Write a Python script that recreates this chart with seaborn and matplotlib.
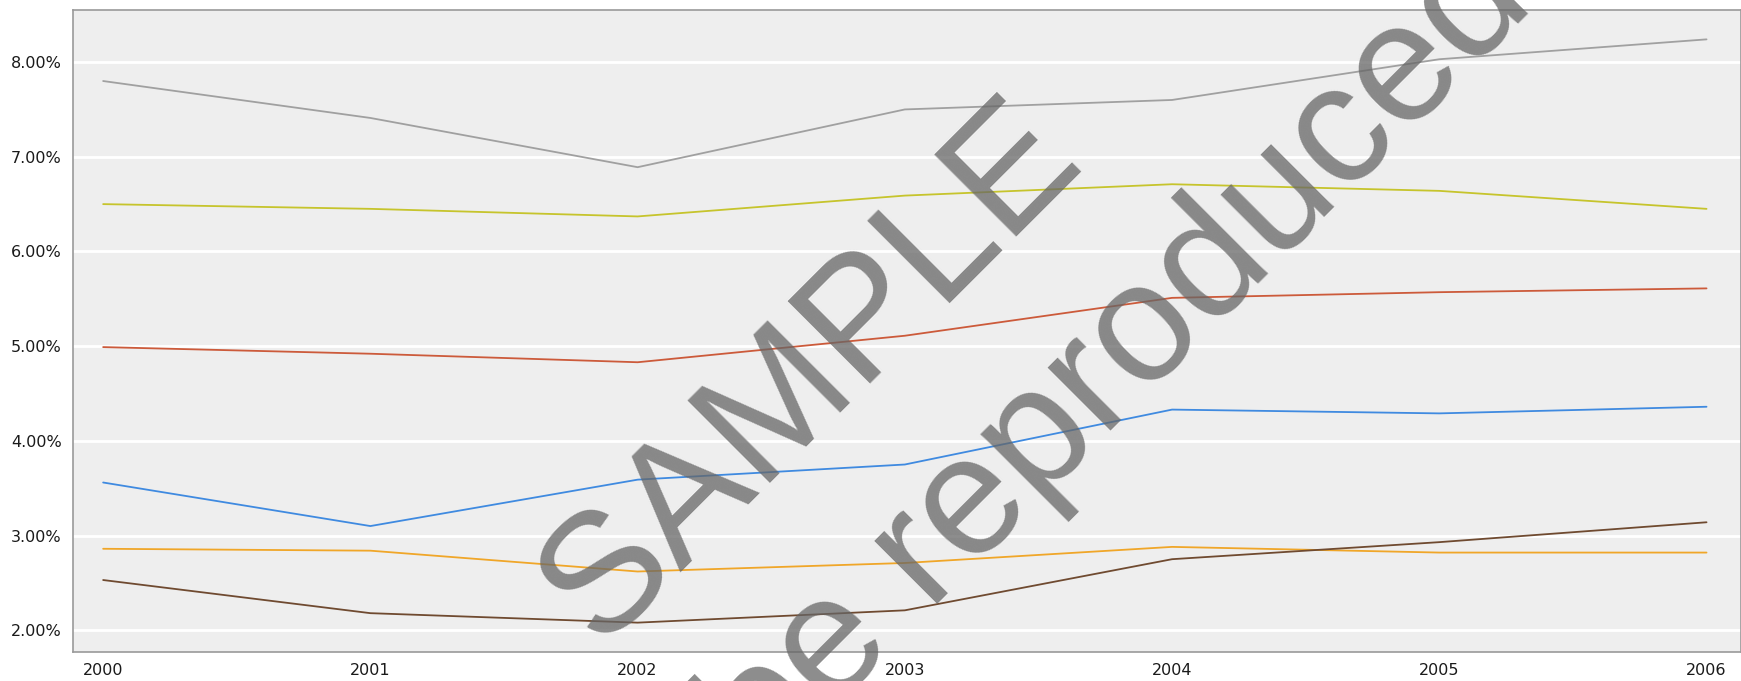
import matplotlib
matplotlib.use("Agg")
import matplotlib.pyplot as plt
import matplotlib.ticker as mticker
from matplotlib import font_manager
import pandas as pd
import seaborn as sns

# Yearly rates (%) for six series
years = [2000, 2001, 2002, 2003, 2004, 2005, 2006]
series_gray = [7.80, 7.41, 6.89, 7.50, 7.60, 8.03, 8.24]
series_olive = [6.50, 6.45, 6.37, 6.59, 6.71, 6.64, 6.45]
series_red = [4.99, 4.92, 4.83, 5.11, 5.51, 5.57, 5.61]
series_blue = [3.56, 3.10, 3.59, 3.75, 4.33, 4.29, 4.36]
series_orange = [2.86, 2.84, 2.62, 2.71, 2.88, 2.82, 2.82]
series_brown = [2.53, 2.18, 2.08, 2.21, 2.75, 2.93, 3.14]

y_ticks = [2, 3, 4, 5, 6, 7, 8]

series = {
    "gray": series_gray,
    "olive": series_olive,
    "red": series_red,
    "blue": series_blue,
    "orange": series_orange,
    "brown": series_brown,
}
palette = {
    "gray": "#a0a0a0",
    "olive": "#c6c42c",
    "red": "#cc5a3a",
    "blue": "#3f8ae0",
    "orange": "#f0a628",
    "brown": "#6f4a30",
}

df = pd.concat(
    [pd.DataFrame({"year": years, "rate": vals, "series": name})
     for name, vals in series.items()],
    ignore_index=True,
)

sns.set_style("white")
plt.rcParams["font.family"] = ["DejaVu Sans"]

# Narrow tick font when available
names = {f.name for f in font_manager.fontManager.ttflist}
if "DejaVu Sans Condensed" in names:
    tick_font = dict(family="DejaVu Sans Condensed", size=13)
else:
    tick_font = dict(family="DejaVu Sans", size=11.5)

fig = plt.figure(figsize=(17.41, 6.81), dpi=100)
ax = fig.add_axes([0.0419, 0.0426, 0.9581, 0.9427])
ax.set_facecolor("#eeeeee")

for v in y_ticks:
    ax.axhline(v, color="white", lw=2.0, zorder=1)

sns.lineplot(data=df, x="year", y="rate", hue="series", palette=palette,
             linewidth=1.3, legend=False, ax=ax, zorder=3)

ax.set_xlim(1999.887, 2006.129)
ax.set_ylim(1.77, 8.55)
ax.set_xticks(years)
ax.set_xticklabels([str(y) for y in years])
ax.set_yticks(y_ticks)
ax.yaxis.set_major_formatter(mticker.FuncFormatter(lambda v, p: f"{v:.2f}%"))
ax.set_xlabel("")
ax.set_ylabel("")
ax.grid(False)

for side in ["left", "bottom", "top", "right"]:
    ax.spines[side].set_color("#999999")
    ax.spines[side].set_linewidth(1.2)

ax.tick_params(axis="both", which="major", length=3, width=1, color="#999999",
               labelcolor="#1a1a1a", direction="out", pad=5)
for lbl in ax.get_xticklabels() + ax.get_yticklabels():
    lbl.set_fontfamily(tick_font["family"])
    lbl.set_fontsize(tick_font["size"])

# Diagonal watermark
wm = dict(rotation=45, rotation_mode="anchor", ha="center", va="center",
          family=["Liberation Sans", "DejaVu Sans"], color="#666666",
          alpha=0.75, zorder=10)
fig.text(0.466, 0.452, "SAMPLE", fontsize=122, **wm)
fig.text(0.522, 0.1615, "Cannot be reproduced", fontsize=122, **wm)

fig.savefig("out.png", dpi=100)
